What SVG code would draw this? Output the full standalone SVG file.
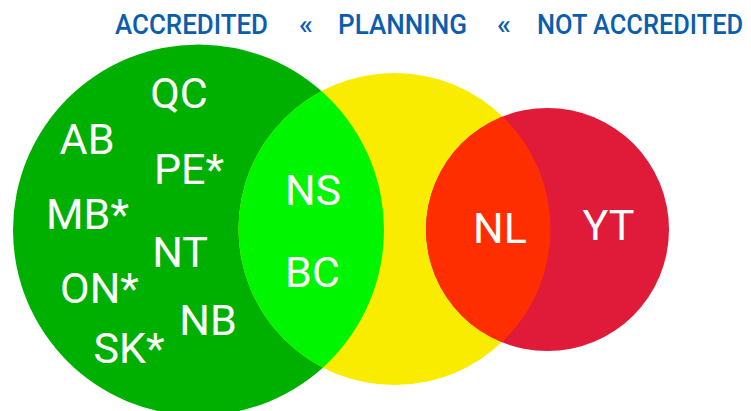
<svg xmlns="http://www.w3.org/2000/svg" width="751" height="411" viewBox="0 0 751 411">
  <style>
    .hdr { font-family: Roboto, "DejaVu Sans", sans-serif; font-weight: 500; font-size: 27px; fill: #0b5eab; }
    .lbl { font-family: Roboto, "DejaVu Sans", sans-serif; font-weight: 400; font-size: 43px; fill: #ffffff; text-anchor: middle; }
  </style>
  <defs>
    <clipPath id="clipGreen"><circle cx="198.5" cy="230" r="185.5"/></clipPath>
    <clipPath id="clipRed"><circle cx="547.5" cy="229.5" r="121.5"/></clipPath>
  </defs>

  <!-- header legend -->
  <g id="legend">
    <text class="hdr" x="115" y="34" textLength="153" lengthAdjust="spacingAndGlyphs">ACCREDITED</text>
    <text class="hdr" x="299" y="34" textLength="14" lengthAdjust="spacingAndGlyphs">«</text>
    <text class="hdr" x="338" y="34" textLength="129" lengthAdjust="spacingAndGlyphs">PLANNING</text>
    <text class="hdr" x="497" y="34" textLength="14" lengthAdjust="spacingAndGlyphs">«</text>
    <text class="hdr" transform="translate(537 34) scale(0.92 1)" textLength="224" lengthAdjust="spacingAndGlyphs">NOT ACCREDITED</text>
  </g>

  <!-- sets -->
  <g id="set-accredited"><circle cx="198.5" cy="230" r="185.5" fill="#00b000"/></g>
  <g id="set-planning"><circle cx="394.5" cy="229" r="156" fill="#faec00"/></g>
  <g id="set-not-accredited"><circle cx="547.5" cy="229.5" r="121.5" fill="#e01b3a"/></g>

  <!-- overlaps -->
  <g id="overlap-accredited-planning"><circle cx="394.5" cy="229" r="156" fill="#00f500" clip-path="url(#clipGreen)"/></g>
  <g id="overlap-planning-not"><circle cx="394.5" cy="229" r="156" fill="#ff2e00" clip-path="url(#clipRed)"/></g>

  <!-- province / territory labels -->
  <g id="labels">
    <text class="lbl" x="179" y="108">QC</text>
    <text class="lbl" x="87" y="154">AB</text>
    <text class="lbl" x="189" y="184">PE*</text>
    <text class="lbl" x="87.5" y="229">MB*</text>
    <text class="lbl" x="180" y="267">NT</text>
    <text class="lbl" x="99.5" y="303">ON*</text>
    <text class="lbl" x="208" y="335">NB</text>
    <text class="lbl" x="129" y="363">SK*</text>
    <text class="lbl" x="313" y="205">NS</text>
    <text class="lbl" x="312.5" y="287">BC</text>
    <text class="lbl" x="500" y="243">NL</text>
    <text class="lbl" x="608.5" y="240">YT</text>
  </g>
</svg>
